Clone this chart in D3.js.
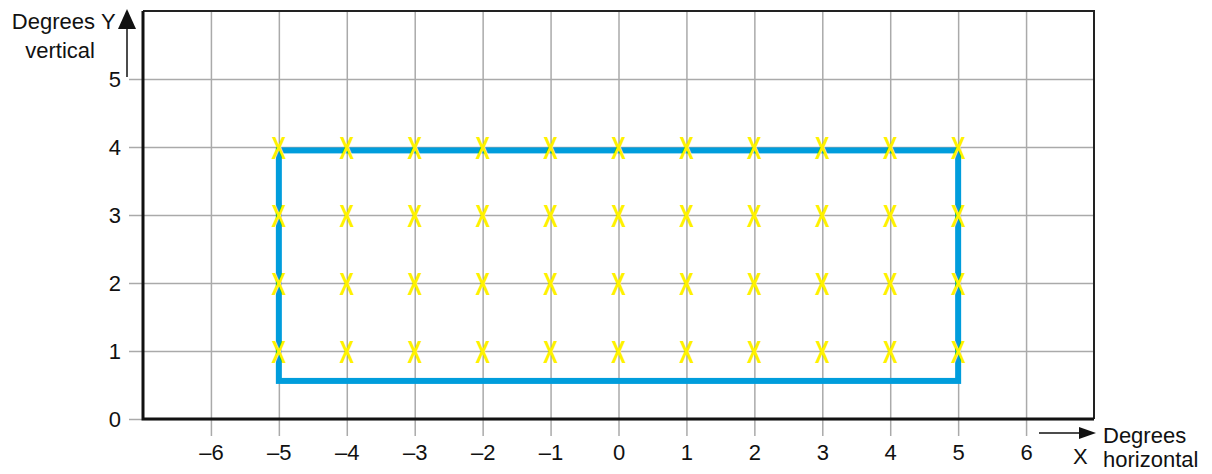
<!DOCTYPE html>
<html>
<head>
<meta charset="utf-8">
<script src="https://cdn.jsdelivr.net/npm/d3@7"></script>
<style>
  body { margin: 0; background: #fff; }
  svg { display: block; }
</style>
</head>
<body>
<div id="chart"></div>
<script>
// chart values
var xTicks = [-6, -5, -4, -3, -2, -1, 0, 1, 2, 3, 4, 5, 6];
var yTicks = [0, 1, 2, 3, 4, 5];
var markX = [-5, -4, -3, -2, -1, 0, 1, 2, 3, 4, 5];
var markY = [1, 2, 3, 4];
var boxX = [-5, 5];
var boxY = [0.56, 3.95];

var W = 1212, H = 474,
    fontFamily = "'Liberation Sans', Arial, Helvetica, sans-serif";

var plotL = 143, plotR = 1094, plotT = 11, plotB = 419;

var x = d3.scaleLinear().domain([-7, 7]).range([plotL, plotR]);
var y = d3.scaleLinear().domain([0, 6]).range([plotB, plotT]);

var svg = d3.select("#chart").append("svg")
    .attr("width", W)
    .attr("height", H);

/* vertical grid + x labels */
var gx = svg.append("g")
    .attr("transform", "translate(0," + plotT + ")")
    .call(d3.axisBottom(x)
        .tickValues(xTicks)
        .tickSize(plotB - plotT + 17)
        .tickPadding(8)
        .tickFormat(function(d) { return d < 0 ? "\u2013" + Math.abs(d) : d; }));

/* horizontal grid + y labels */
var gy = svg.append("g")
    .attr("transform", "translate(" + plotR + ",0)")
    .call(d3.axisLeft(y)
        .tickValues(yTicks)
        .tickSize(plotR - 129)
        .tickPadding(8)
        .tickFormat(d3.format("d")));

[gx, gy].forEach(function(g) {
    g.select(".domain").remove();
    g.selectAll(".tick line").attr("stroke", "#aaa").attr("stroke-width", 1.5);
    g.selectAll(".tick text")
        .attr("fill", "#111")
        .attr("font-size", 22)
        .attr("font-family", fontFamily);
});

/* frame */
svg.append("path")
    .attr("d", "M" + plotL + "," + plotT + "H" + plotR + "V" + plotB)
    .attr("fill", "none")
    .attr("stroke", "#222")
    .attr("stroke-width", 2);
svg.append("path")
    .attr("d", "M" + plotL + "," + plotT + "V" + plotB + "H" + plotR)
    .attr("fill", "none")
    .attr("stroke", "#111")
    .attr("stroke-width", 3);

/* blue rectangle */
svg.append("rect")
    .attr("x", x(boxX[0]))
    .attr("y", y(boxY[1]))
    .attr("width", x(boxX[1]) - x(boxX[0]))
    .attr("height", y(boxY[0]) - y(boxY[1]))
    .attr("fill", "none")
    .attr("stroke", "#009ddc")
    .attr("stroke-width", 6);

/* yellow X marks */
var pts = [];
markY.forEach(function(v) { markX.forEach(function(u) { pts.push([u, v]); }); });

svg.append("g").selectAll("text")
    .data(pts)
    .enter().append("text")
    .attr("transform", function(d) { return "translate(" + x(d[0]) + "," + y(d[1]) + ") scale(0.68,1)"; })
    .attr("dy", "0.36em")
    .attr("text-anchor", "middle")
    .attr("font-size", 32)
    .attr("font-weight", "bold")
    .attr("font-family", fontFamily)
    .attr("fill", "#fff200")
    .text("X");

/* axis arrows */
svg.append("line")
    .attr("x1", 127).attr("y1", 77).attr("x2", 127).attr("y2", 26)
    .attr("stroke", "#111").attr("stroke-width", 1.5);
svg.append("path")
    .attr("d", "M127,9L136,29L118,29Z")
    .attr("fill", "#111");

svg.append("line")
    .attr("x1", 1039).attr("y1", 433).attr("x2", 1082).attr("y2", 433)
    .attr("stroke", "#111").attr("stroke-width", 1.5);
svg.append("path")
    .attr("d", "M1096,433L1079,427L1079,439Z")
    .attr("fill", "#111");

/* axis titles */
function label(tx, ty, str, anchor) {
    svg.append("text")
        .attr("x", tx).attr("y", ty)
        .attr("text-anchor", anchor || "start")
        .attr("font-size", 22)
        .attr("font-family", fontFamily)
        .attr("fill", "#111")
        .text(str);
}

label(95, 29, "Degrees", "end");
label(95, 58, "vertical", "end");
label(101, 29, "Y");
label(1073, 464, "X");
label(1103, 443, "Degrees");
label(1103, 467, "horizontal");
</script>
</body>
</html>
